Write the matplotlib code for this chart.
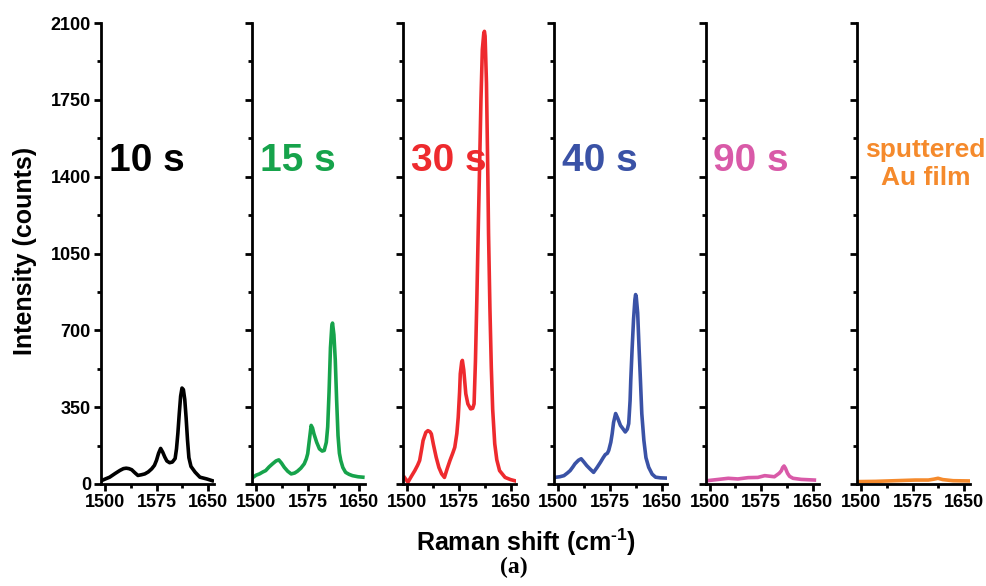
import numpy as np
import matplotlib
matplotlib.use('Agg')
from matplotlib import pyplot as plt
from matplotlib.ticker import MultipleLocator

plt.rcParams['font.family'] = 'Liberation Sans'
plt.rcParams['font.weight'] = 'bold'
plt.rcParams['mathtext.fontset'] = 'custom'
plt.rcParams['mathtext.rm'] = 'Liberation Sans:bold'
plt.rcParams['mathtext.bf'] = 'Liberation Sans:bold'

# spectra: Raman shift (cm-1) and counts
shift_10 = [1495, 1500, 1507, 1515, 1522, 1527, 1531, 1535, 1539, 1544, 1548, 1553, 1558,
            1563, 1568, 1572, 1575, 1578, 1581, 1584, 1587, 1590, 1594, 1598, 1602, 1604,
            1606, 1608, 1610, 1612, 1614, 1616, 1618, 1620, 1622, 1625, 1631, 1638, 1648, 1656]
counts_10 = [15, 22, 31, 48, 62, 70, 72, 70, 65, 50, 39, 42, 46,
             55, 69, 85, 108, 140, 162, 145, 123, 105, 97, 100, 116, 160,
             231, 320, 400, 437, 430, 385, 300, 200, 120, 80, 54, 31, 23, 15]

shift_15 = [1496, 1500, 1505, 1510, 1514, 1519, 1524, 1529, 1533, 1537, 1541, 1546, 1551,
            1556, 1560, 1565, 1570, 1573, 1575, 1577, 1580, 1582, 1584, 1588, 1592, 1596,
            1599, 1602, 1604, 1606, 1608, 1610, 1611, 1613, 1615, 1617, 1619, 1621, 1623,
            1626, 1630, 1635, 1640, 1648, 1655]
counts_15 = [31, 40, 46, 55, 61, 78, 92, 105, 110, 95, 76, 58, 46,
             50, 58, 72, 92, 115, 138, 190, 267, 255, 229, 190, 160, 150,
             153, 190, 260, 420, 620, 720, 733, 680, 565, 380, 220, 140, 107,
             75, 53, 44, 38, 33, 31]

shift_30 = [1496, 1501, 1506, 1511, 1515, 1518, 1521, 1523, 1527, 1530, 1533, 1535, 1538,
            1542, 1546, 1550, 1554, 1558, 1562, 1566, 1569, 1572, 1574, 1576, 1577, 1579,
            1580, 1582, 1585, 1588, 1592, 1595, 1597, 1599, 1601, 1603, 1605, 1607, 1609,
            1611, 1612, 1613, 1615, 1617, 1618, 1620, 1622, 1624, 1627, 1630, 1634, 1642,
            1650, 1656]
counts_30 = [30, 8, 35, 61, 85, 107, 160, 198, 235, 243, 238, 228, 180,
             122, 75, 46, 30, 70, 107, 140, 167, 230, 304, 420, 502, 555,
             563, 520, 411, 365, 342, 345, 365, 560, 837, 1150, 1446, 1750, 1979,
             2050, 2062, 2040, 1826, 1400, 1141, 800, 533, 340, 183, 110, 61, 30,
             20, 15]

shift_40 = [1497, 1502, 1508, 1513, 1517, 1521, 1524, 1529, 1533, 1537, 1541, 1546, 1551,
            1556, 1561, 1565, 1568, 1571, 1573, 1576, 1578, 1580, 1583, 1586, 1590, 1594,
            1597, 1600, 1602, 1604, 1605, 1607, 1609, 1611, 1612, 1613, 1615, 1617, 1619,
            1621, 1624, 1627, 1631, 1636, 1641, 1648, 1655]
counts_40 = [31, 33, 38, 50, 61, 78, 92, 108, 115, 100, 84, 68, 53,
             75, 99, 120, 134, 140, 153, 190, 229, 280, 321, 300, 267, 250,
             237, 250, 275, 380, 474, 620, 749, 840, 863, 850, 779, 620, 474,
             320, 199, 120, 76, 45, 31, 28, 27]

shift_90 = [1496, 1513, 1527, 1541, 1556, 1570, 1580, 1594, 1601, 1604, 1606, 1608, 1610,
            1613, 1616, 1621, 1633, 1652]
counts_90 = [15, 21, 26, 23, 29, 30, 38, 33, 49, 60, 75, 82, 72,
             49, 35, 26, 21, 18]

shift_au = [1497, 1521, 1550, 1579, 1598, 1606, 1612, 1619, 1634, 1656]
counts_au = [11, 12, 15, 18, 18, 22, 26, 20, 15, 14]

labels = ['10 s', '15 s', '30 s', '40 s', '90 s', 'sputtered\nAu film']
colors = ['#000000', '#16a34b', '#ee2a2e', '#3a52a6', '#d95aa8', '#f58a2c']
shifts = [shift_10, shift_15, shift_30, shift_40, shift_90, shift_au]
counts = [counts_10, counts_15, counts_30, counts_40, counts_90, counts_au]

fig = plt.figure(figsize=(9.86, 5.86), dpi=100)

for i in range(6):
    ax = fig.add_axes([(100.7 + 151.2 * i) / 986, 102 / 586, 113 / 986, 461 / 586])
    ax.plot(shifts[i], counts[i], color=colors[i], lw=2.6, solid_joinstyle='round')
    ax.set_xlim(1494, 1658)
    ax.set_ylim(0, 2100)
    ax.spines['top'].set_visible(False)
    ax.spines['right'].set_visible(False)
    ax.spines['left'].set_linewidth(2)
    ax.spines['bottom'].set_linewidth(2)
    ax.xaxis.set_major_locator(MultipleLocator(75))
    ax.xaxis.set_minor_locator(MultipleLocator(37.5))
    ax.yaxis.set_major_locator(MultipleLocator(350))
    ax.yaxis.set_minor_locator(MultipleLocator(175))
    ax.tick_params(which='major', length=5, width=2, labelsize=13, pad=2)
    ax.tick_params(which='minor', length=3, width=2)
    for lab in ax.get_xticklabels() + ax.get_yticklabels():
        lab.set_fontweight('bold')
    if i > 0:
        ax.set_yticklabels([])
    if i < 5:
        ax.text(0.07, 0.70, labels[i], transform=ax.transAxes, color=colors[i],
                fontsize=28, fontweight='bold', ha='left', va='center')
    else:
        ax.text(0.61, 0.695, labels[i], transform=ax.transAxes, color=colors[i],
                fontsize=19, fontweight='bold', ha='center', va='center', linespacing=1.2)

fig.text(0.025, 0.572, 'Intensity (counts)', rotation=90, fontsize=18, fontweight='bold',
         ha='center', va='center')
fig.text(0.534, 0.075, r'Raman shift (cm$^{\text{-1}}$)', fontsize=18, fontweight='bold',
         ha='center', va='center')
fig.text(0.521, 0.032, '(a)', family='Liberation Serif', fontsize=17, fontweight='bold',
         ha='center', va='center')

fig.savefig('out.png', dpi=100)
